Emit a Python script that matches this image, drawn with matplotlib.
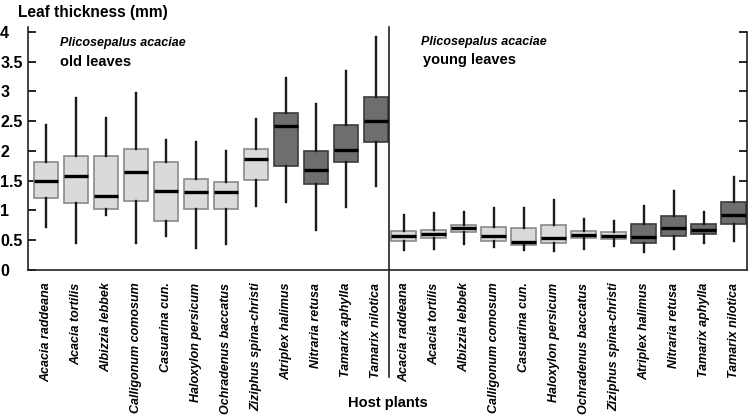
import numpy as np
import matplotlib
matplotlib.use("Agg")
import matplotlib.pyplot as plt

plt.rcParams['font.family'] = ['Liberation Sans', 'DejaVu Sans']

# ── Data ──────────────────────────────────────────────────────────────────────
hosts = ["Acacia raddeana", "Acacia tortilis", "Albizzia lebbek",
         "Calligonum comosum", "Casuarina cun.", "Haloxylon persicum",
         "Ochradenus baccatus", "Ziziphus spina-christi", "Atriplex halimus",
         "Nitraria retusa", "Tamarix aphylla", "Tamarix nilotica"]

# old leaves: whisker low, Q1, median, Q3, whisker high
old_lo  = [0.73, 0.46, 0.92, 0.46, 0.57, 0.37, 0.43, 1.08, 1.15, 0.67, 1.06, 1.41]
old_q1  = [1.21, 1.12, 1.02, 1.16, 0.83, 1.02, 1.03, 1.51, 1.75, 1.44, 1.82, 2.15]
old_med = [1.50, 1.57, 1.24, 1.65, 1.32, 1.31, 1.31, 1.86, 2.41, 1.68, 2.02, 2.50]
old_q3  = [1.81, 1.91, 1.91, 2.04, 1.82, 1.53, 1.47, 2.04, 2.64, 1.99, 2.44, 2.90]
old_hi  = [2.43, 2.89, 2.56, 2.98, 2.18, 2.15, 2.00, 2.54, 3.22, 2.79, 3.34, 3.92]

# young leaves
yng_lo  = [0.33, 0.35, 0.44, 0.38, 0.33, 0.32, 0.36, 0.40, 0.31, 0.35, 0.46, 0.49]
yng_q1  = [0.49, 0.54, 0.64, 0.48, 0.42, 0.46, 0.54, 0.52, 0.46, 0.57, 0.61, 0.77]
yng_med = [0.57, 0.61, 0.71, 0.57, 0.47, 0.53, 0.59, 0.57, 0.56, 0.71, 0.68, 0.93]
yng_q3  = [0.65, 0.68, 0.76, 0.72, 0.71, 0.75, 0.66, 0.64, 0.77, 0.90, 0.77, 1.15]
yng_hi  = [0.93, 0.96, 0.97, 1.04, 1.04, 1.17, 0.86, 0.82, 1.08, 1.32, 0.97, 1.56]

dark = [False] * 8 + [True] * 4   # Atriplex .. Tamarix drawn dark

yticks = [0, 0.5, 1, 1.5, 2, 2.5, 3, 3.5, 4]
ytick_labels = ["0", "0.5", "1", "1.5", "2", "2.5", "3", "3.5", "4"]

# ── Layout ────────────────────────────────────────────────────────────────────
W, H = 750, 416
fig = plt.figure(figsize=(W / 100, H / 100), dpi=100)
ax = fig.add_axes([28 / W, (H - 270) / H, (747 - 28) / W, (270 - 27) / H])

pos_old = np.arange(1, 13)
pos_yng = np.arange(12) + 12.93
divider = 12.43


def stats(lo, q1, med, q3, hi):
    return [dict(whislo=a, q1=b, med=c, q3=d, whishi=e, fliers=[])
            for a, b, c, d, e in zip(lo, q1, med, q3, hi)]


def draw(st, pos):
    bp = ax.bxp(st, positions=pos, widths=0.83, patch_artist=True,
                showcaps=False, showfliers=False,
                whiskerprops=dict(color="#1a1a1a", lw=1.7),
                medianprops=dict(color="black", lw=2.4, solid_capstyle="butt"))
    for box, d in zip(bp["boxes"], dark):
        if d:
            box.set_facecolor("#6e6e6e")
            box.set_edgecolor("#3c3c3c")
        else:
            box.set_facecolor("#dadada")
            box.set_edgecolor("#8a8a8a")
        box.set_linewidth(1.2)


draw(stats(old_lo, old_q1, old_med, old_q3, old_hi), pos_old)
draw(stats(yng_lo, yng_q1, yng_med, yng_q3, yng_hi), pos_yng)

ax.set_xlim(0.4, 24.37)
ax.set_ylim(0, 4.08)

# ── Axes styling ──────────────────────────────────────────────────────────────
ax.spines["top"].set_visible(False)
for s in ["left", "right", "bottom"]:
    ax.spines[s].set_linewidth(1.2)
    ax.spines[s].set_color("#222222")
ax.spines["right"].set_bounds(0, 4.0)

ax.set_yticks(yticks)
ax.set_yticklabels(ytick_labels, fontsize=11.5, fontweight="bold", ha="left")
ax.tick_params(axis="y", direction="in", length=6, width=1.2, pad=20)

ax.set_xticks(np.concatenate([pos_old, pos_yng]))
ax.set_xticklabels(hosts + hosts, rotation=90, fontsize=9,
                   fontweight="bold", fontstyle="italic", va="top")
ax.tick_params(axis="x", length=0, pad=9)

# right-side inward ticks (upper part only)
ax2 = ax.twinx()
ax2.set_ylim(ax.get_ylim())
ax2.set_yticks([1.5, 2, 2.5, 3, 3.5, 4])
ax2.set_yticklabels([])
ax2.tick_params(axis="y", direction="in", length=6, width=1.2)
for s in ax2.spines.values():
    s.set_visible(False)

# divider between the two panels
ax.axvline(divider, ymin=-0.44, ymax=1, color="#222222", lw=1.2, clip_on=False)

# ── Text ──────────────────────────────────────────────────────────────────────
fig.text(18 / W, 1 - 13 / H, "Leaf thickness (mm)", fontsize=11.2,
         fontweight="bold", va="center")
fig.text(60 / W, 1 - 43 / H, "Plicosepalus acaciae", fontsize=9,
         fontweight="bold", fontstyle="italic", va="center")
fig.text(60 / W, 1 - 62 / H, "old leaves", fontsize=10.5,
         fontweight="bold", va="center")
fig.text(421 / W, 1 - 42 / H, "Plicosepalus acaciae", fontsize=9,
         fontweight="bold", fontstyle="italic", va="center")
fig.text(423 / W, 1 - 60 / H, "young leaves", fontsize=10.5,
         fontweight="bold", va="center")
fig.text(388 / W, 1 - 403 / H, "Host plants", fontsize=10.5,
         fontweight="bold", ha="center", va="center")

fig.savefig("out.png", dpi=100)
